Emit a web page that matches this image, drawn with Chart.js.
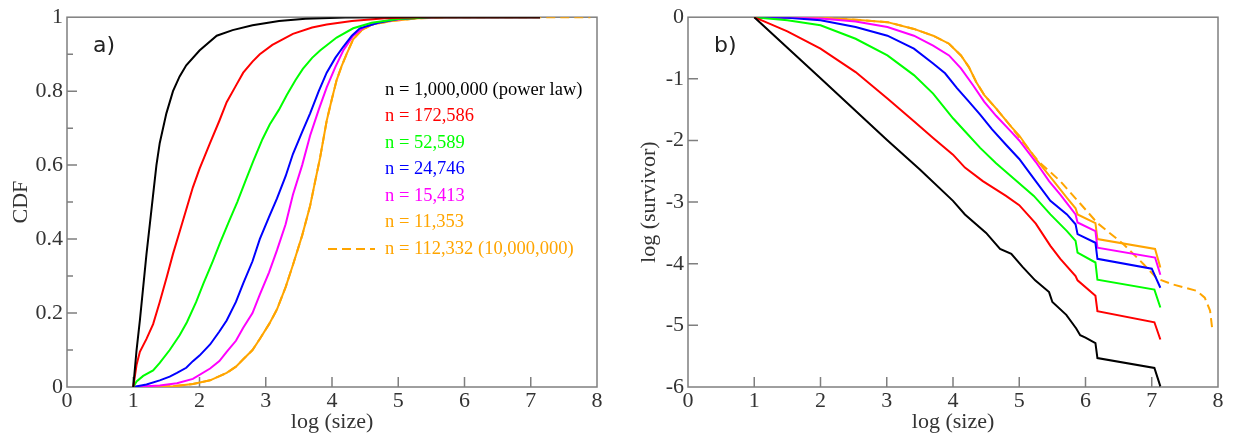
<!DOCTYPE html>
<html>
<head>
<meta charset="utf-8">
<script src="https://cdn.jsdelivr.net/npm/chart.js@4.4.1/dist/chart.umd.min.js"></script>
<style>
  html, body { margin: 0; padding: 0; background: #fff; }
  #wrap { position: relative; width: 1233px; height: 435px; }
  canvas { position: absolute; top: 0; }
  #cdf { left: 0; }
  #surv { left: 620px; }
</style>
</head>
<body>
<div id="wrap">
  <canvas id="cdf" width="620" height="435"></canvas>
  <canvas id="surv" width="613" height="435"></canvas>
</div>
<script>
// etiquetas y colores de las series
const seriesLabels = ['n = 1,000,000 (power law)', 'n = 172,586', 'n = 52,589', 'n = 24,746', 'n = 15,413', 'n = 11,353', 'n = 112,332 (10,000,000)'];
const seriesColors = ['#000000', '#ff0000', '#00ff00', '#0000ff', '#ff00ff', '#ffa500', '#ffa500'];
const xTicks = [0, 1, 2, 3, 4, 5, 6, 7, 8];
const cdfTicks = [0, 0.2, 0.4, 0.6, 0.8, 1];
const survTicks = [-6, -5, -4, -3, -2, -1, 0];

// a) CDF  [log(size), CDF]
const cdfBlack = [[1,0],[1.05,0.1],[1.1,0.18],[1.15,0.27],[1.2,0.36],[1.25,0.44],[1.3,0.52],[1.35,0.6],[1.4,0.66],[1.5,0.74],[1.6,0.8],[1.7,0.84],[1.8,0.87],[2,0.91],[2.26,0.95],[2.5,0.965],[2.8,0.978],[3.2,0.99],[3.6,0.996],[4.2,0.999],[5,1],[7.14,1]];
const cdfRed = [[1,0],[1.05,0.06],[1.1,0.095],[1.2,0.13],[1.3,0.17],[1.4,0.23],[1.51,0.3],[1.6,0.36],[1.7,0.42],[1.8,0.48],[1.9,0.54],[2,0.59],[2.16,0.66],[2.3,0.72],[2.41,0.77],[2.55,0.815],[2.66,0.85],[2.8,0.88],[2.91,0.9],[3.1,0.925],[3.41,0.955],[3.7,0.972],[3.92,0.98],[4.3,0.99],[4.8,0.997],[5.3,1],[7.14,1]];
const cdfGreen = [[1,0],[1.05,0.015],[1.15,0.03],[1.3,0.045],[1.4,0.065],[1.55,0.1],[1.7,0.14],[1.81,0.175],[1.95,0.23],[2.06,0.28],[2.2,0.34],[2.31,0.39],[2.45,0.45],[2.57,0.5],[2.7,0.56],[2.81,0.61],[2.95,0.67],[3.06,0.71],[3.2,0.75],[3.32,0.79],[3.45,0.83],[3.56,0.86],[3.7,0.89],[3.82,0.91],[4.07,0.945],[4.32,0.97],[4.6,0.985],[5,0.995],[5.5,1],[7.14,1]];
const cdfBlue = [[1,0],[1.2,0.007],[1.4,0.018],[1.55,0.028],[1.66,0.038],[1.8,0.052],[1.9,0.07],[2,0.085],[2.16,0.115],[2.3,0.15],[2.41,0.18],[2.55,0.23],[2.66,0.28],[2.8,0.34],[2.91,0.4],[3.05,0.46],[3.17,0.51],[3.3,0.57],[3.41,0.63],[3.55,0.69],[3.67,0.74],[3.8,0.8],[3.92,0.85],[4.05,0.89],[4.17,0.92],[4.3,0.95],[4.42,0.97],[4.7,0.985],[5,0.995],[5.5,1],[7.14,1]];
const cdfMagenta = [[1,0],[1.4,0.004],[1.66,0.01],[1.9,0.022],[2.16,0.05],[2.3,0.07],[2.41,0.095],[2.55,0.125],[2.66,0.16],[2.8,0.2],[2.91,0.25],[3.05,0.31],[3.17,0.37],[3.3,0.44],[3.41,0.52],[3.55,0.6],[3.67,0.68],[3.8,0.75],[3.92,0.81],[4.05,0.865],[4.17,0.91],[4.32,0.95],[4.5,0.975],[4.8,0.99],[5.2,0.998],[5.6,1],[7.14,1]];
const cdfOrange = [[1,0],[1.6,0.002],[1.9,0.008],[2.16,0.018],[2.41,0.038],[2.55,0.055],[2.66,0.075],[2.8,0.1],[2.91,0.13],[3.05,0.17],[3.17,0.21],[3.3,0.27],[3.41,0.33],[3.55,0.41],[3.67,0.49],[3.75,0.56],[3.82,0.62],[3.92,0.72],[4,0.78],[4.07,0.83],[4.15,0.87],[4.22,0.9],[4.32,0.94],[4.45,0.965],[4.6,0.98],[4.9,0.99],[5.3,0.997],[5.8,1],[7.14,1]];
const cdfDashed = [[1,0],[1.6,0.002],[1.9,0.008],[2.16,0.018],[2.41,0.038],[2.55,0.055],[2.66,0.075],[2.8,0.1],[2.91,0.13],[3.05,0.17],[3.17,0.21],[3.3,0.27],[3.41,0.33],[3.55,0.41],[3.67,0.49],[3.75,0.56],[3.82,0.62],[3.92,0.72],[4,0.78],[4.07,0.83],[4.15,0.87],[4.22,0.9],[4.32,0.94],[4.45,0.965],[4.6,0.98],[4.9,0.99],[5.3,0.997],[5.8,1],[7.9,1]];

// b) log(survivor)  [log(size), log(survivor)]
const survBlack = [[1,0],[2,-0.99],[3,-1.99],[3.5,-2.47],[4,-2.98],[4.18,-3.2],[4.5,-3.5],[4.71,-3.76],[4.88,-3.84],[5.05,-4.05],[5.24,-4.27],[5.45,-4.46],[5.5,-4.62],[5.71,-4.83],[5.86,-5.05],[5.92,-5.16],[6,-5.2],[6.15,-5.29],[6.18,-5.53],[7.04,-5.69],[7.13,-5.99]];
const survRed = [[1,0],[1.5,-0.23],[2,-0.51],[2.53,-0.89],[3.01,-1.32],[3.41,-1.69],[3.7,-1.96],[4,-2.23],[4.18,-2.44],[4.45,-2.66],[4.8,-2.9],[5,-3.05],[5.25,-3.35],[5.47,-3.71],[5.62,-3.92],[5.85,-4.2],[5.88,-4.27],[6.15,-4.52],[6.18,-4.77],[7.04,-4.95],[7.13,-5.23]];
const survGreen = [[1,0],[1.5,-0.05],[2,-0.13],[2.53,-0.35],[3.01,-0.62],[3.41,-0.94],[3.7,-1.24],[4,-1.64],[4.18,-1.85],[4.41,-2.12],[4.65,-2.37],[4.92,-2.62],[5.22,-2.9],[5.47,-3.2],[5.72,-3.47],[5.85,-3.63],[5.88,-3.82],[6.15,-3.98],[6.18,-4.26],[7.04,-4.42],[7.13,-4.71]];
const survBlue = [[1,0],[1.5,-0.01],[2,-0.05],[2.53,-0.16],[3.01,-0.3],[3.41,-0.51],[3.7,-0.75],[3.88,-0.91],[4.06,-1.15],[4.24,-1.37],[4.41,-1.58],[4.59,-1.82],[4.8,-2.07],[5,-2.3],[5.22,-2.62],[5.47,-2.98],[5.72,-3.2],[5.85,-3.36],[5.88,-3.52],[6.15,-3.66],[6.18,-3.92],[7,-4.08],[7.13,-4.39]];
const survMagenta = [[1,0],[1.5,-0.005],[2,-0.02],[2.53,-0.07],[3.01,-0.16],[3.41,-0.3],[3.7,-0.46],[3.94,-0.62],[4.12,-0.83],[4.3,-1.1],[4.47,-1.37],[4.65,-1.6],[4.88,-1.86],[5,-2],[5.25,-2.35],[5.45,-2.66],[5.62,-2.88],[5.85,-3.2],[5.88,-3.33],[6.15,-3.47],[6.18,-3.74],[7.05,-3.9],[7.13,-4.18]];
const survOrange = [[1,0],[2,-0.01],[2.53,-0.04],[3.01,-0.08],[3.41,-0.19],[3.7,-0.3],[3.94,-0.43],[4.12,-0.62],[4.24,-0.81],[4.35,-1.05],[4.47,-1.26],[4.65,-1.48],[4.88,-1.78],[5,-1.92],[5.25,-2.3],[5.52,-2.66],[5.72,-2.93],[5.85,-3.1],[5.88,-3.2],[6.15,-3.34],[6.18,-3.6],[7.05,-3.76],[7.13,-4.06]];
const survDashed = [[1,0],[2,-0.01],[2.53,-0.04],[3.01,-0.08],[3.41,-0.19],[3.7,-0.3],[3.94,-0.43],[4.12,-0.62],[4.24,-0.81],[4.35,-1.05],[4.47,-1.26],[4.65,-1.48],[4.88,-1.78],[5,-1.95],[5.3,-2.35],[5.62,-2.66],[5.9,-3],[6.18,-3.34],[6.57,-3.68],[6.87,-4],[7.08,-4.24],[7.3,-4.33],[7.68,-4.44],[7.8,-4.55],[7.88,-4.76],[7.91,-5.03]];

const SERIF = 'Liberation Serif';
const ejeColor = '#7f7f7f';
const textoColor = '#333';

function serie(puntos, i, dashed) {
    return {
        label: seriesLabels[i],
        data: puntos.map(p => ({ x: p[0], y: p[1] })),
        borderColor: seriesColors[i],
        borderWidth: 2,
        borderDash: dashed ? [9, 5] : [],
        pointRadius: 0,
        showLine: true,
        tension: 0,
        fill: false
    };
}

// marco gris con marcas hacia adentro (estilo xmgrace)
const marcoPlugin = {
    id: 'marco',
    beforeDatasetsDraw(chart, args, opts) {
        const { ctx, chartArea: a, scales } = chart;
        ctx.save();
        ctx.strokeStyle = ejeColor;
        ctx.lineWidth = 1.5;
        ctx.strokeRect(a.left, a.top, a.right - a.left, a.bottom - a.top);
        ctx.beginPath();
        scales.x.ticks.forEach(t => {
            const px = scales.x.getPixelForValue(t.value);
            if (px <= a.left + 1 || px >= a.right - 1) return;
            ctx.moveTo(px, a.bottom);
            ctx.lineTo(px, a.bottom - 10);
        });
        scales.y.ticks.forEach(t => {
            const py = scales.y.getPixelForValue(t.value);
            if (py <= a.top + 1 || py >= a.bottom - 1) return;
            ctx.moveTo(a.left, py);
            ctx.lineTo(a.left + 10, py);
        });
        (opts.yMenores || []).forEach(v => {
            const py = scales.y.getPixelForValue(v);
            ctx.moveTo(a.left, py);
            ctx.lineTo(a.left + 6, py);
        });
        ctx.stroke();
        ctx.fillStyle = '#222';
        ctx.font = '22px "DejaVu Sans"';
        ctx.textBaseline = 'alphabetic';
        ctx.fillText(opts.etiqueta, a.left + 26, a.top + 35);
        ctx.restore();
    }
};

// leyenda como texto coloreado (panel a)
const leyendaPlugin = {
    id: 'leyenda',
    afterDraw(chart, args, opts) {
        if (!opts.mostrar) return;
        const ctx = chart.ctx;
        ctx.save();
        ctx.font = '18.5px "' + SERIF + '"';
        ctx.textBaseline = 'middle';
        seriesLabels.forEach((txt, i) => {
            const y = 90 + i * 26.5;
            ctx.fillStyle = seriesColors[i];
            ctx.fillText(txt, 385, y);
            if (i === seriesLabels.length - 1) {
                ctx.strokeStyle = seriesColors[i];
                ctx.lineWidth = 2;
                ctx.setLineDash([9, 5]);
                ctx.beginPath();
                ctx.moveTo(328, y);
                ctx.lineTo(375, y);
                ctx.stroke();
            }
        });
        ctx.restore();
    }
};

function opcionesEjes(yMin, yMax, yTicks, yTitulo, anchoY, padTitulo) {
    const fuente = { family: SERIF, size: 22 };
    return {
        x: {
            type: 'linear', min: 0, max: 8,
            afterBuildTicks: s => { s.ticks = xTicks.map(v => ({ value: v })); },
            ticks: { padding: 1, color: textoColor, font: fuente, maxRotation: 0, callback: v => String(v) },
            grid: { display: false, drawTicks: false },
            border: { display: false },
            title: { display: true, text: 'log (size)', color: textoColor, font: fuente, padding: { top: 0, bottom: 0 } },
            afterFit: s => { s.height = 48; }
        },
        y: {
            type: 'linear', min: yMin, max: yMax,
            afterBuildTicks: s => { s.ticks = yTicks.map(v => ({ value: v })); },
            ticks: { padding: 4, color: textoColor, font: fuente, callback: v => String(+v.toFixed(2)) },
            grid: { display: false, drawTicks: false },
            border: { display: false },
            title: { display: true, text: yTitulo, color: textoColor, font: fuente, padding: { top: padTitulo, bottom: 0 } },
            afterFit: s => { s.width = anchoY; }
        }
    };
}

new Chart(document.getElementById('cdf'), {
    type: 'scatter',
    data: {
        datasets: [
            serie(cdfBlack, 0), serie(cdfRed, 1), serie(cdfGreen, 2), serie(cdfBlue, 3),
            serie(cdfMagenta, 4), serie(cdfOrange, 5), serie(cdfDashed, 6, true)
        ]
    },
    options: {
        responsive: false,
        animation: false,
        layout: { padding: { top: 15, right: 23, left: 0, bottom: 0 } },
        scales: opcionesEjes(0, 1, cdfTicks, 'CDF', 67, 8),
        plugins: {
            legend: { display: false },
            tooltip: { enabled: false },
            marco: { etiqueta: 'a)', yMenores: [0.1, 0.3, 0.5, 0.7, 0.9] },
            leyenda: { mostrar: true }
        }
    },
    plugins: [marcoPlugin, leyendaPlugin]
});

new Chart(document.getElementById('surv'), {
    type: 'scatter',
    data: {
        datasets: [
            serie(survBlack, 0), serie(survRed, 1), serie(survGreen, 2), serie(survBlue, 3),
            serie(survMagenta, 4), serie(survOrange, 5), serie(survDashed, 6, true)
        ]
    },
    options: {
        responsive: false,
        animation: false,
        layout: { padding: { top: 15, right: 15, left: 0, bottom: 0 } },
        scales: opcionesEjes(-6, 0, survTicks, 'log (survivor)', 68, 16),
        plugins: {
            legend: { display: false },
            tooltip: { enabled: false },
            marco: { etiqueta: 'b)', yMenores: [] },
            leyenda: { mostrar: false }
        }
    },
    plugins: [marcoPlugin, leyendaPlugin]
});
</script>
</body>
</html>
